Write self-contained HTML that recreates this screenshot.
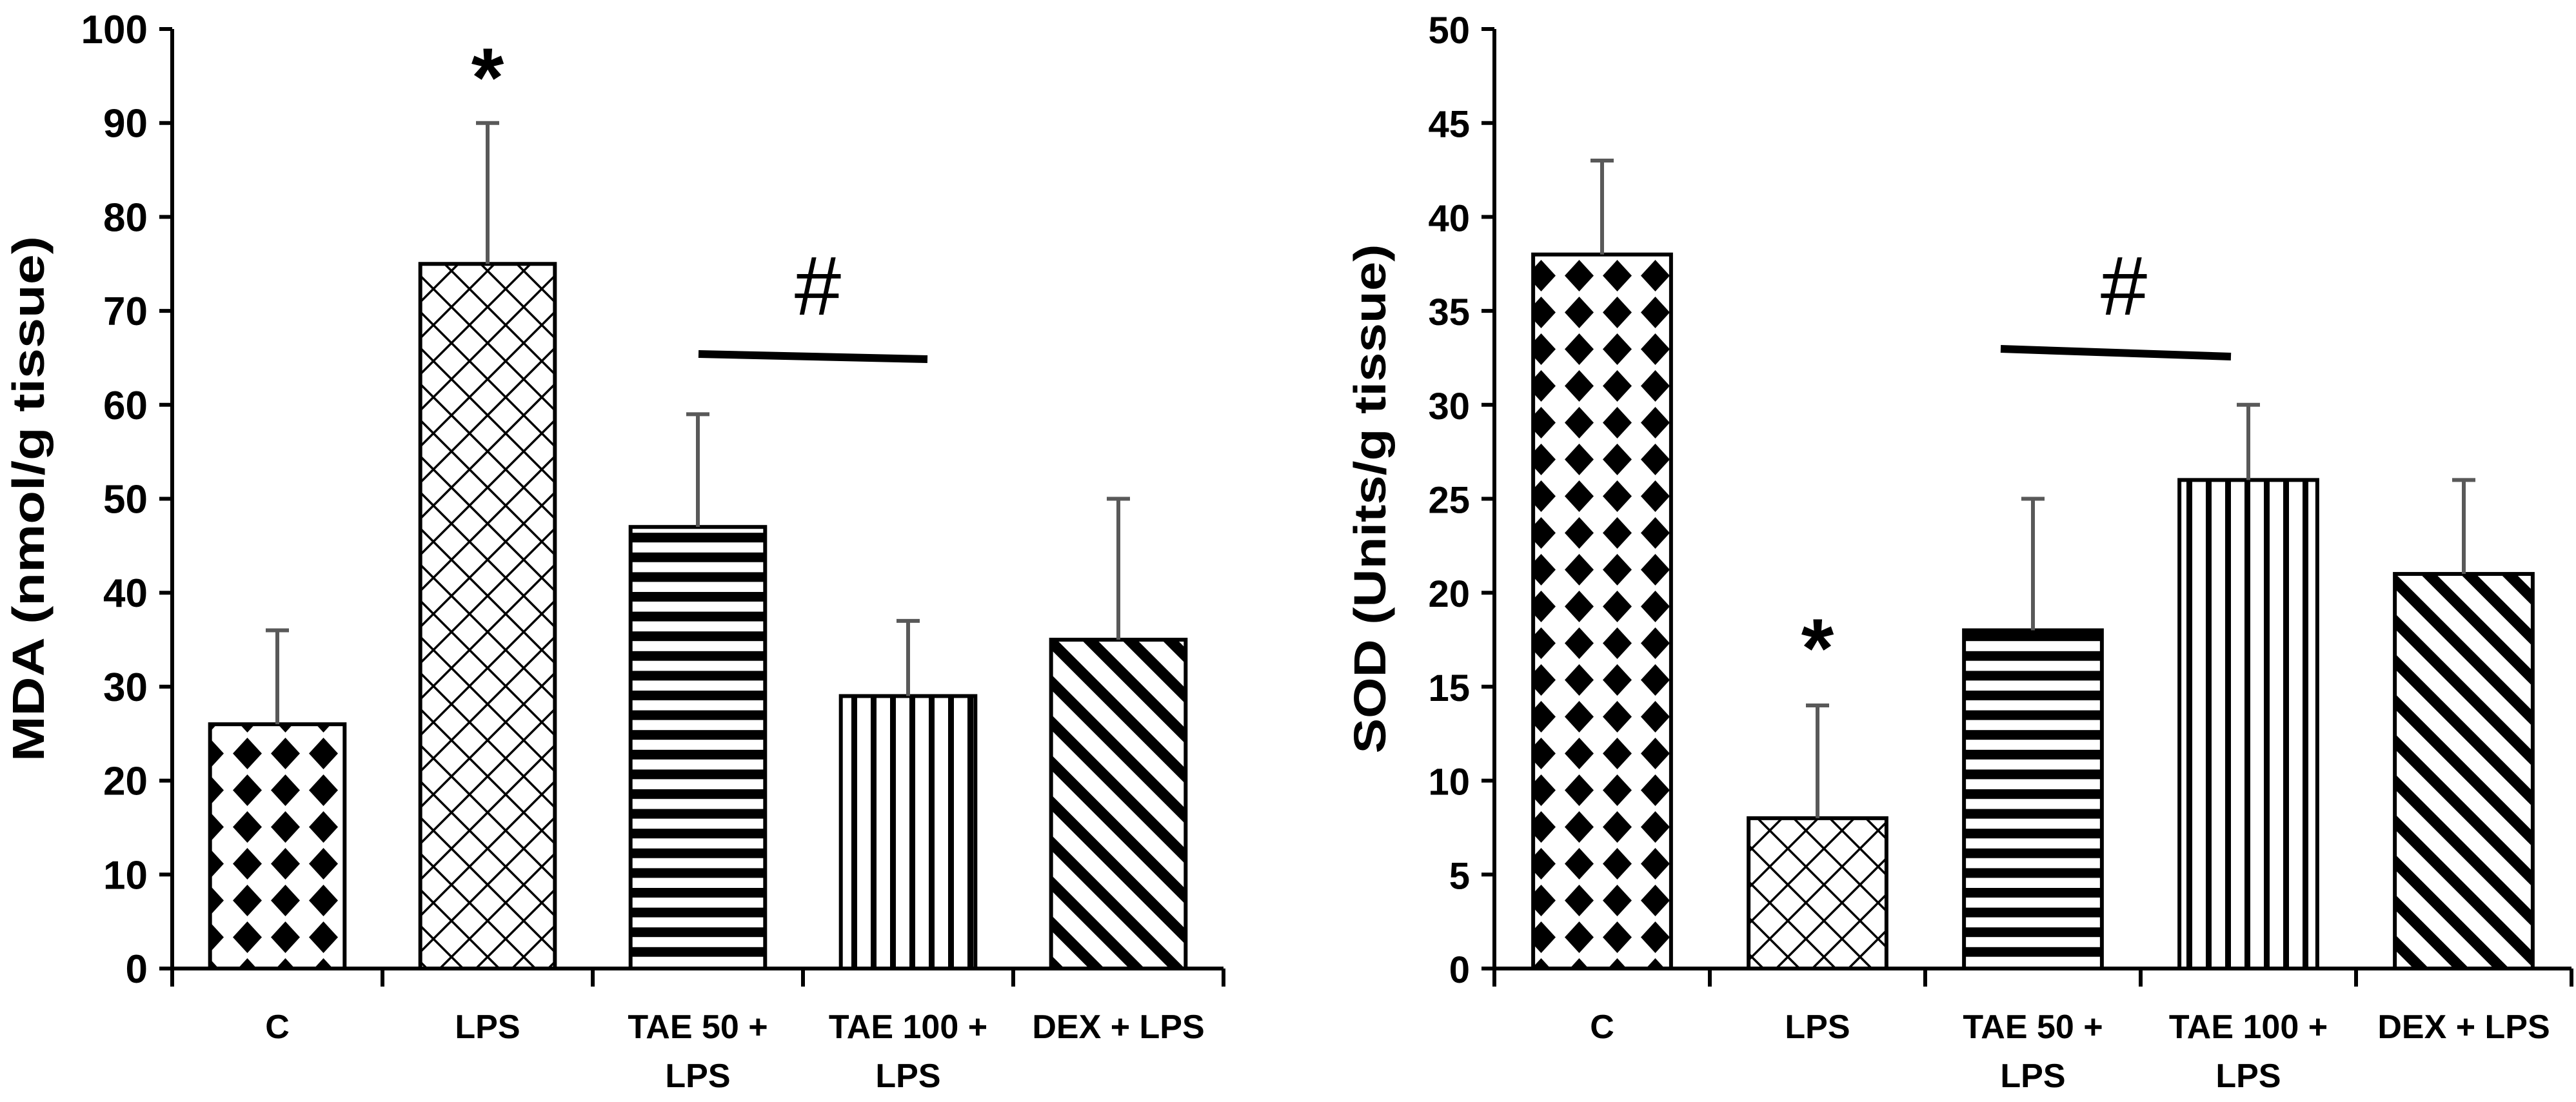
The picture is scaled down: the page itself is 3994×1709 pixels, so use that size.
<!DOCTYPE html>
<html><head><meta charset="utf-8"><style>
html,body{margin:0;padding:0;background:#fff;}
svg{display:block;}
text{font-family:"Liberation Sans",sans-serif;font-weight:bold;fill:#000;}
</style></head><body>
<svg id="chart" width="3994" height="1709" viewBox="0 0 3994 1709" xmlns="http://www.w3.org/2000/svg">
<defs>
<pattern id="pC" patternUnits="userSpaceOnUse" width="59" height="57" x="0" y="0">
  <rect width="59" height="57" fill="#fff"/>
  <polygon points="29.5,4 52,28.5 29.5,53 7,28.5" fill="#000"/>
</pattern>
<pattern id="pLPS" patternUnits="userSpaceOnUse" width="56" height="56">
  <rect width="56" height="56" fill="#fff"/>
  <path d="M0,56 L56,0 M0,0 L56,56" stroke="#000" stroke-width="3.5" fill="none"/>
</pattern>
<pattern id="pH" patternUnits="userSpaceOnUse" width="30" height="30.6">
  <rect width="30" height="30.6" fill="#fff"/>
  <rect y="0" width="30" height="15" fill="#000"/>
</pattern>
<pattern id="pV" patternUnits="userSpaceOnUse" width="30" height="30">
  <rect width="30" height="30" fill="#fff"/>
  <rect x="0" width="9" height="30" fill="#000"/>
</pattern>
<pattern id="pD" patternUnits="userSpaceOnUse" width="44" height="44" patternTransform="rotate(-45)">
  <rect width="44" height="44" fill="#fff"/>
  <rect width="17" height="44" fill="#000"/>
</pattern>
</defs>
<g id="g"></g>
</svg>
<script>
const categories=["C","LPS","TAE 50 +|LPS","TAE 100 +|LPS","DEX + LPS"];
const mdaValues=[26,75,47,29,35];
const mdaErrors=[10,15,12,8,15];
const sodValues=[38,8,18,26,21];
const sodErrors=[5,6,7,4,5];
const mdaTicks=[0,10,20,30,40,50,60,70,80,90,100];
const sodTicks=[0,5,10,15,20,25,30,35,40,45,50];
const patterns=["pC","pLPS","pH","pV","pD"];
const NS="http://www.w3.org/2000/svg";
const g=document.getElementById('g');
function mk(tag,attrs,parent){const e=document.createElementNS(NS,tag);for(const k in attrs)e.setAttribute(k,attrs[k]);(parent||g).appendChild(e);return e;}

function drawChart(cfg){
  const grp=mk('g',{});
  
  
  const x0=cfg.x0, cw=cfg.cw, yTop=45, yBot=1502, max=cfg.max;
  const y=v=>yBot-(v/max)*(yBot-yTop);
  const xc=i=>x0+cw*(i+0.5);
  const bw=cw*0.64;
  cfg.values.forEach((v,i)=>{
    const r=mk('rect',{x:xc(i)-bw/2,y:y(v),width:bw,height:yBot-y(v),fill:'url(#'+patterns[i]+')',stroke:'#000','stroke-width':6},grp);
    
    
    const e=cfg.errors[i];
    const eb=mk('path',{d:`M${xc(i)},${y(v)} L${xc(i)},${y(v+e)} M${xc(i)-18},${y(v+e)} L${xc(i)+18},${y(v+e)}`,stroke:'#595959','stroke-width':6,fill:'none'},grp);
    
    
  });
  const ax=mk('path',{d:`M${x0},${yTop} L${x0},${yBot} M${x0},${yBot} L${x0+cw*5},${yBot}`,stroke:'#000','stroke-width':6,fill:'none'},grp);
  
  
  cfg.ticks.forEach(t=>{
    mk('line',{x1:x0-20,x2:x0,y1:y(t),y2:y(t),stroke:'#000','stroke-width':6},grp);
    const tx=mk('text',{x:x0-38,y:y(t)+22,'text-anchor':'end','font-size':cfg.tickSize},grp);
    tx.textContent=t;
    
    
  });
  for(let i=0;i<=5;i++) mk('line',{x1:x0+cw*i,x2:x0+cw*i,y1:yBot,y2:yBot+28,stroke:'#000','stroke-width':6},grp);
  categories.forEach((c,i)=>{
    c.split('|').forEach((ln,j)=>{
      const tx=mk('text',{x:xc(i),y:1610+j*76,'text-anchor':'middle','font-size':52},grp);
      tx.textContent=ln;
      
      
    });
  });
  const tt=mk('text',{x:0,y:0,'text-anchor':'middle','font-size':70,textLength:cfg.titleLen,lengthAdjust:'spacingAndGlyphs',transform:`translate(${cfg.titleX},${(yTop+yBot)/2}) rotate(-90)`},grp);
  tt.textContent=cfg.title;
  
  
  return {y,xc};
}
const L=drawChart({name:'mda-chart',x0:267,cw:326,max:100,values:mdaValues,errors:mdaErrors,ticks:mdaTicks,title:'MDA (nmol/g tissue)',titleX:68,titleLen:815,tickSize:62});
const R=drawChart({name:'sod-chart',x0:2317,cw:334,max:50,values:sodValues,errors:sodErrors,ticks:sodTicks,title:'SOD (Units/g tissue)',titleX:2148,titleLen:790,tickSize:58});
function star(x,yy,n){const t=mk('text',{x:x,y:yy,'text-anchor':'middle','font-size':130});t.textContent='*';}
function hash(x,yy,n){const t=mk('text',{x:x,y:yy,'text-anchor':'middle','font-size':130,style:'font-weight:normal'});t.textContent='#';}
star(L.xc(1),165,'significance-star-mda');
star(R.xc(1),1050,'significance-star-sod');
hash(1268,488,'significance-hash-mda');
hash(3293,488,'significance-hash-sod');
const l1=mk('line',{x1:1083,y1:549,x2:1438,y2:557,stroke:'#000','stroke-width':12});


const l2=mk('line',{x1:3102,y1:541,x2:3459,y2:553,stroke:'#000','stroke-width':12});


</script>
</body></html>
